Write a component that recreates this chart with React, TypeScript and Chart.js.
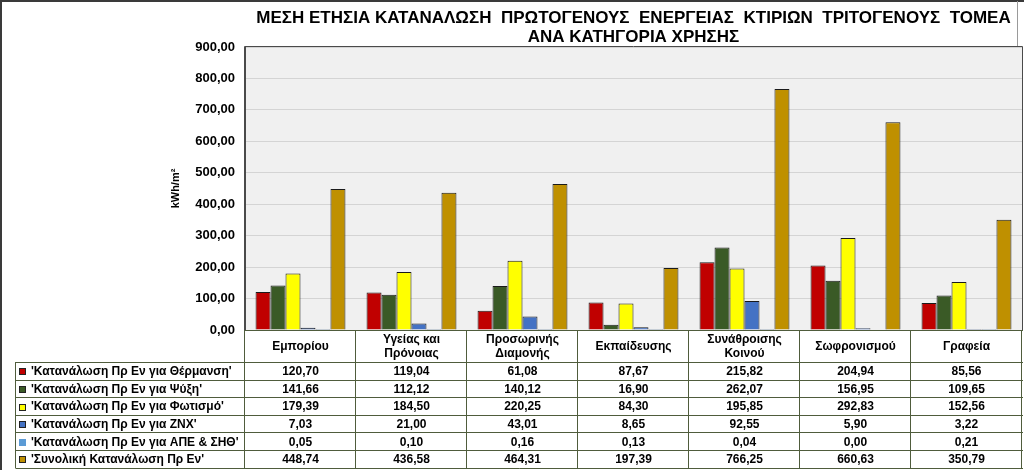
import React, { useEffect, useRef } from 'react';
import { Chart, registerables } from 'chart.js';

Chart.register(...registerables);

const titleLines = [
  'ΜΕΣΗ ΕΤΗΣΙΑ ΚΑΤΑΝΑΛΩΣΗ  ΠΡΩΤΟΓΕΝΟΥΣ  ΕΝΕΡΓΕΙΑΣ  ΚΤΙΡΙΩΝ  ΤΡΙΤΟΓΕΝΟΥΣ  ΤΟΜΕΑ',
  'ΑΝΑ ΚΑΤΗΓΟΡΙΑ ΧΡΗΣΗΣ',
];
const yAxisTitle = 'kWh/m²';

const categories: string[][] = [
  ['Εμπορίου'],
  ['Υγείας και', 'Πρόνοιας'],
  ['Προσωρινής', 'Διαμονής'],
  ['Εκπαίδευσης'],
  ['Συνάθροισης', 'Κοινού'],
  ['Σωφρονισμού'],
  ['Γραφεία'],
];

const seriesNames = [
  "'Κατανάλωση Πρ Εν για Θέρμανση'",
  "'Κατανάλωση Πρ Εν για Ψύξη'",
  "'Κατανάλωση Πρ Εν για Φωτισμό'",
  "'Κατανάλωση Πρ Εν για ΖΝΧ'",
  "'Κατανάλωση Πρ Εν για ΑΠΕ & ΣΗΘ'",
  "'Συνολική Κατανάλωση Πρ Εν'",
];

const heating = [120.7, 119.04, 61.08, 87.67, 215.82, 204.94, 85.56];
const cooling = [141.66, 112.12, 140.12, 16.9, 262.07, 156.95, 109.65];
const lighting = [179.39, 184.5, 220.25, 84.3, 195.85, 292.83, 152.56];
const dhw = [7.03, 21.0, 43.01, 8.65, 92.55, 5.9, 3.22];
const renewables = [0.05, 0.1, 0.16, 0.13, 0.04, 0.0, 0.21];
const total = [448.74, 436.58, 464.31, 197.39, 766.25, 660.63, 350.79];

const seriesValues = [heating, cooling, lighting, dhw, renewables, total];
const seriesColors = ['#C00000', '#3A5A26', '#FFFF00', '#4472C4', '#5B9BD5', '#BF9000'];

const yMin = 0;
const yMax = 900;
const yStep = 100;

const FONT = '"Liberation Sans", Arial, sans-serif';
const fmt = (v: number) => v.toFixed(2).replace('.', ',');

const chartPlugin = {
  id: 'tableAndDecor',
  beforeDraw(chart: any) {
    const ctx = chart.ctx;
    const a = chart.chartArea;
    ctx.save();
    ctx.fillStyle = '#FFFFFF';
    ctx.fillRect(0, 0, chart.width, chart.height);
    ctx.fillStyle = '#F0F0F0';
    ctx.fillRect(a.left, a.top, a.right - a.left, a.bottom - a.top);
    ctx.restore();
  },
  afterDraw(chart: any) {
    const ctx = chart.ctx;
    const a = chart.chartArea;
    const n = categories.length;
    const w = (a.right - a.left) / n;
    ctx.save();

    // title
    ctx.fillStyle = '#000';
    ctx.font = `bold 17px ${FONT}`;
    ctx.textAlign = 'center';
    ctx.textBaseline = 'middle';
    const cx = (a.left + a.right) / 2;
    ctx.fillText(titleLines[0], cx, 18);
    ctx.fillText(titleLines[1], cx, 37);

    // plot frame
    ctx.strokeStyle = '#4A4A4A';
    ctx.lineWidth = 1;
    ctx.beginPath();
    ctx.moveTo(a.left - 0.5, a.bottom);
    ctx.lineTo(a.left - 0.5, a.top - 0.5);
    ctx.lineTo(a.right + 0.5, a.top - 0.5);
    ctx.lineTo(a.right + 0.5, a.bottom);
    ctx.stroke();

    // outer frame
    ctx.strokeStyle = '#3A3A3A';
    ctx.lineWidth = 2;
    ctx.beginPath();
    ctx.moveTo(1, chart.height);
    ctx.lineTo(1, 1);
    ctx.lineTo(chart.width, 1);
    ctx.stroke();
    ctx.strokeStyle = '#9A9A9A';
    ctx.lineWidth = 1;
    ctx.beginPath();
    ctx.moveTo(1017.5, 1);
    ctx.lineTo(1017.5, a.top - 1);
    ctx.stroke();

    // table
    const top = a.bottom;
    const hdrH = 32;
    const rowH = 17.6;
    const legLeft = 15.5;
    const rowsTop = top + hdrH;
    const tblBottom = rowsTop + rowH * seriesNames.length;
    ctx.strokeStyle = '#4F5C3C';
    ctx.lineWidth = 1;
    ctx.beginPath();
    ctx.moveTo(a.left, Math.round(top) + 0.5);
    ctx.lineTo(a.right + 1, Math.round(top) + 0.5);
    for (let r = 0; r <= seriesNames.length; r++) {
      const y = Math.round(rowsTop + r * rowH) + 0.5;
      ctx.moveTo(legLeft, y);
      ctx.lineTo(a.right + 1, y);
    }
    for (let i = 0; i <= n; i++) {
      const x = Math.round(a.left + i * w) - 0.5;
      ctx.moveTo(x, top);
      ctx.lineTo(x, tblBottom + 0.5);
    }
    ctx.moveTo(legLeft, rowsTop);
    ctx.lineTo(legLeft, tblBottom + 0.5);
    ctx.stroke();

    // category labels
    ctx.fillStyle = '#000';
    ctx.font = `bold 12px ${FONT}`;
    ctx.textAlign = 'center';
    ctx.textBaseline = 'middle';
    categories.forEach((lines, i) => {
      const x = chart.scales.x.getPixelForValue(i);
      const midY = top + hdrH / 2 + 1;
      if (lines.length === 1) {
        ctx.fillText(lines[0], x, midY);
      } else {
        ctx.fillText(lines[0], x, midY - 7);
        ctx.fillText(lines[1], x, midY + 7);
      }
    });

    // rows
    seriesNames.forEach((name, r) => {
      const yMid = rowsTop + r * rowH + rowH / 2 + 1;
      ctx.fillStyle = seriesColors[r];
      const sq = 7;
      ctx.fillRect(19, Math.round(yMid - sq / 2), sq, sq);
      if (r !== 4) {
        ctx.strokeStyle = '#222';
        ctx.lineWidth = 1;
        ctx.strokeRect(19.5, Math.round(yMid - sq / 2) + 0.5, sq - 1, sq - 1);
      }
      ctx.fillStyle = '#000';
      ctx.font = `bold 12px ${FONT}`;
      ctx.textAlign = 'left';
      ctx.fillText(name, 31, yMid);
      ctx.textAlign = 'center';
      seriesValues[r].forEach((v, i) => {
        const x = chart.scales.x.getPixelForValue(i);
        ctx.fillText(fmt(v), x, yMid);
      });
    });

    ctx.restore();
  },
};

export default function App() {
  const ref = useRef<HTMLCanvasElement | null>(null);
  useEffect(() => {
    document.body.style.margin = '0';
    const canvas = ref.current;
    if (!canvas) return;
    const chart = new Chart(canvas, {
      type: 'bar',
      data: {
        labels: categories.map((c) => c.join(' ')),
        datasets: seriesNames.map((name, i) => ({
          label: name,
          data: seriesValues[i],
          backgroundColor: seriesColors[i],
          borderColor: '#1A1A1A',
          borderWidth: 1,
          categoryPercentage: 0.81,
          barPercentage: 1,
        })),
      },
      options: {
        responsive: false,
        animation: false,
        devicePixelRatio: 1,
        layout: { padding: { top: 47, left: 165, right: 2, bottom: 0 } },
        plugins: {
          legend: { display: false },
          title: { display: false },
          tooltip: { enabled: false },
        },
        scales: {
          x: {
            ticks: { display: false },
            grid: { display: false },
            border: { display: false },
            afterFit: (scale: any) => {
              scale.height = 140;
            },
          },
          y: {
            min: yMin,
            max: yMax,
            ticks: {
              stepSize: yStep,
              padding: 10,
              color: '#000',
              font: { family: FONT, size: 13, weight: 'bold' },
              callback: (v: any) => fmt(Number(v)),
            },
            grid: { color: '#D4D4D4', drawTicks: false, lineWidth: 1 },
            border: { display: true, color: '#4A4A4A' },
            title: {
              display: true,
              text: yAxisTitle,
              color: '#000',
              font: { family: FONT, size: 11, weight: 'bold' },
              padding: { top: 4, bottom: 4 },
            },
            afterFit: (scale: any) => {
              scale.width = 80;
            },
          },
        },
      },
      plugins: [chartPlugin],
    } as any);
    return () => chart.destroy();
  }, []);
  return (
    <div style={{ position: 'absolute', left: 0, top: 0, width: 1024, height: 470 }}>
      <canvas ref={ref} width={1024} height={470} style={{ display: 'block' }} />
    </div>
  );
}
